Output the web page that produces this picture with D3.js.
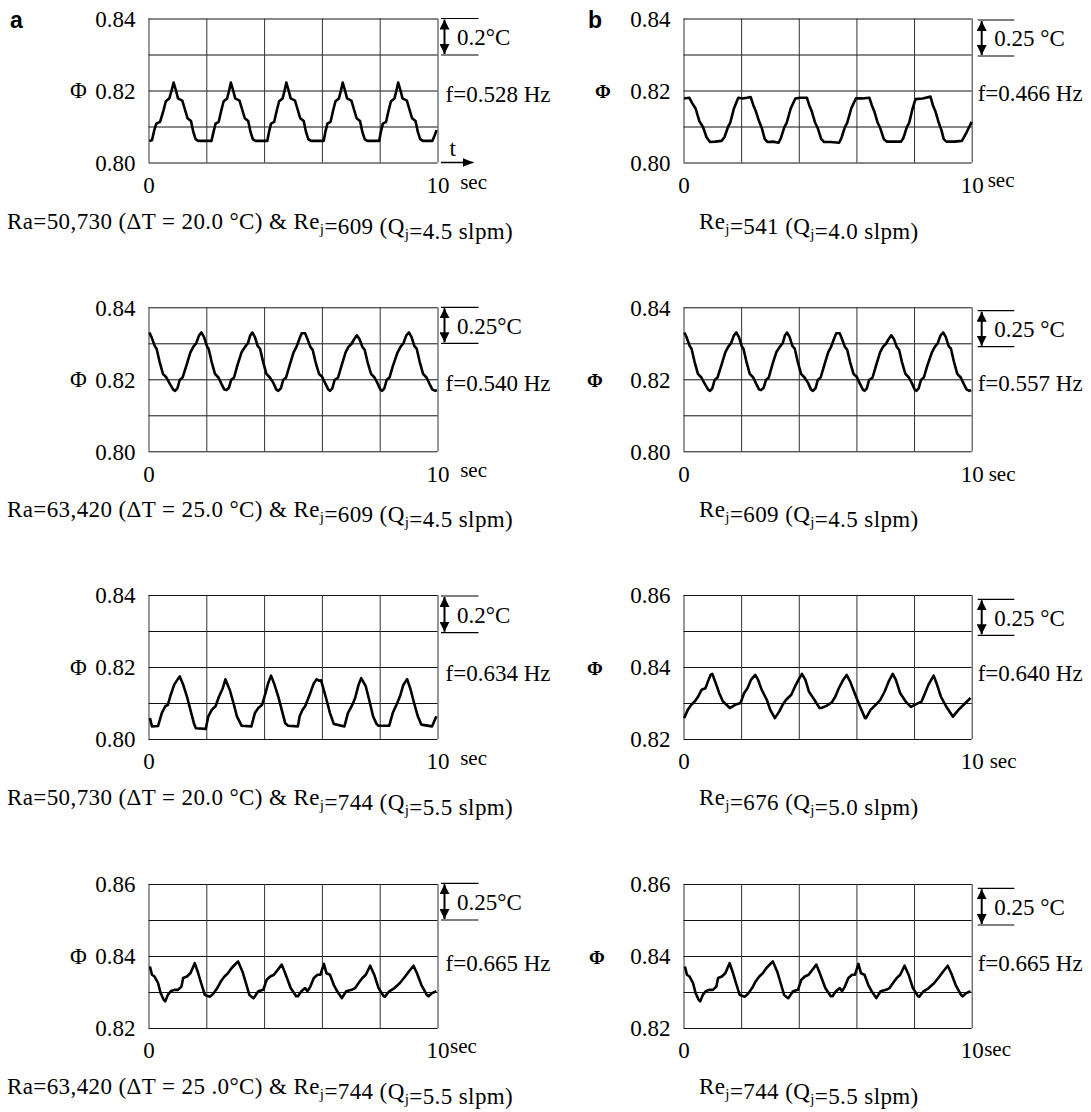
<!DOCTYPE html>
<html>
<head>
<meta charset="utf-8">
<script src="https://cdn.jsdelivr.net/npm/d3@7"></script>
<style>
  body { margin: 0; background: #fff; }
</style>
</head>
<body>
<svg id="chart" width="1091" height="1112"></svg>
<script>
// Φ(t) traces, [time (s), Φ]
const phiA1 = [
  [0.03,0.8060],[0.12,0.8062],[0.20,0.8090],[0.27,0.8108],[0.40,0.8113],[0.52,0.8145],[0.60,0.8170],[0.72,0.8178],[0.80,0.8200],[0.87,0.8222],[0.95,0.8200],[1.02,0.8178],[1.17,0.8172],[1.25,0.8150],[1.35,0.8123],[1.47,0.8115],[1.55,0.8085],[1.63,0.8065],[1.72,0.8060],[2.18,0.8060],
  [2.25,0.8085],[2.32,0.8108],[2.43,0.8113],[2.52,0.8145],[2.60,0.8170],[2.72,0.8178],[2.79,0.8200],[2.85,0.8222],[2.93,0.8200],[3.00,0.8178],[3.15,0.8172],[3.23,0.8150],[3.33,0.8123],[3.45,0.8115],[3.53,0.8085],[3.61,0.8065],[3.70,0.8060],[4.11,0.8060],
  [4.17,0.8085],[4.24,0.8108],[4.35,0.8113],[4.44,0.8145],[4.52,0.8170],[4.64,0.8178],[4.71,0.8200],[4.77,0.8222],[4.85,0.8200],[4.92,0.8178],[5.07,0.8172],[5.15,0.8150],[5.25,0.8123],[5.37,0.8115],[5.45,0.8085],[5.53,0.8065],[5.62,0.8060],[6.06,0.8060],
  [6.12,0.8085],[6.19,0.8108],[6.30,0.8113],[6.39,0.8145],[6.47,0.8170],[6.59,0.8178],[6.66,0.8200],[6.72,0.8222],[6.80,0.8200],[6.87,0.8178],[7.02,0.8172],[7.10,0.8150],[7.20,0.8123],[7.32,0.8115],[7.40,0.8085],[7.48,0.8065],[7.57,0.8060],[7.98,0.8060],
  [8.04,0.8085],[8.11,0.8108],[8.22,0.8113],[8.31,0.8145],[8.39,0.8170],[8.51,0.8178],[8.58,0.8200],[8.64,0.8222],[8.72,0.8200],[8.79,0.8178],[8.94,0.8172],[9.02,0.8150],[9.12,0.8123],[9.24,0.8115],[9.32,0.8085],[9.40,0.8065],[9.49,0.8060],[9.82,0.8060],[9.90,0.8075],[9.97,0.8090]
];
const phiB1 = [
  [0.02,0.8178],[0.20,0.8180],[0.30,0.8165],[0.42,0.8150],[0.55,0.8115],[0.68,0.8098],[0.80,0.8070],[0.92,0.8057],[1.10,0.8058],[1.32,0.8060],[1.42,0.8070],[1.55,0.8100],[1.62,0.8110],[1.75,0.8150],[1.90,0.8180],[2.05,0.8178],[2.20,0.8180],[2.33,0.8182],
  [2.42,0.8160],[2.52,0.8140],[2.62,0.8115],[2.72,0.8095],[2.82,0.8065],[2.92,0.8057],[3.10,0.8058],[3.30,0.8055],[3.38,0.8068],[3.50,0.8098],[3.58,0.8110],[3.72,0.8150],[3.88,0.8178],[4.05,0.8180],[4.28,0.8180],
  [4.36,0.8160],[4.46,0.8140],[4.56,0.8112],[4.66,0.8095],[4.78,0.8065],[4.88,0.8057],[5.10,0.8057],[5.40,0.8055],[5.48,0.8068],[5.60,0.8098],[5.68,0.8110],[5.82,0.8150],[5.98,0.8178],[6.20,0.8178],[6.45,0.8180],
  [6.53,0.8160],[6.63,0.8140],[6.73,0.8112],[6.83,0.8095],[6.95,0.8065],[7.05,0.8058],[7.30,0.8058],[7.55,0.8058],[7.63,0.8068],[7.75,0.8098],[7.83,0.8110],[7.95,0.8150],[8.05,0.8176],[8.30,0.8178],[8.57,0.8183],
  [8.65,0.8160],[8.75,0.8140],[8.85,0.8112],[8.95,0.8090],[9.03,0.8065],[9.12,0.8058],[9.40,0.8058],[9.66,0.8060],[9.80,0.8080],[9.92,0.8100],[10.0,0.8113]
];
// row 2: same trace appears in both columns
const phiRow2 = [
  [0.03,0.8330],[0.10,0.8318],[0.22,0.8292],[0.28,0.8285],[0.38,0.8250],[0.50,0.8215],[0.62,0.8205],[0.72,0.8190],[0.85,0.8172],[0.92,0.8168],[1.00,0.8175],[1.08,0.8198],[1.18,0.8205],[1.30,0.8235],[1.45,0.8275],[1.55,0.8290],[1.65,0.8300],[1.75,0.8322],[1.83,0.8330],
  [1.92,0.8318],[2.02,0.8292],[2.08,0.8285],[2.18,0.8250],[2.30,0.8215],[2.42,0.8205],[2.52,0.8188],[2.62,0.8172],[2.69,0.8170],[2.78,0.8176],[2.86,0.8198],[2.96,0.8205],[3.08,0.8240],[3.22,0.8275],[3.34,0.8290],[3.44,0.8300],[3.52,0.8322],[3.59,0.8330],
  [3.68,0.8318],[3.78,0.8292],[3.86,0.8285],[3.96,0.8250],[4.08,0.8215],[4.20,0.8205],[4.32,0.8190],[4.42,0.8172],[4.49,0.8168],[4.58,0.8175],[4.66,0.8198],[4.76,0.8205],[4.88,0.8238],[5.02,0.8275],[5.12,0.8290],[5.22,0.8312],[5.30,0.8328],[5.42,0.8328],
  [5.50,0.8312],[5.60,0.8290],[5.68,0.8282],[5.78,0.8248],[5.90,0.8215],[6.00,0.8208],[6.12,0.8188],[6.22,0.8172],[6.28,0.8168],[6.36,0.8175],[6.44,0.8198],[6.56,0.8205],[6.68,0.8238],[6.82,0.8275],[6.92,0.8290],[7.02,0.8298],[7.12,0.8312],[7.21,0.8322],
  [7.30,0.8312],[7.40,0.8290],[7.48,0.8282],[7.58,0.8248],[7.70,0.8215],[7.82,0.8205],[7.92,0.8190],[8.02,0.8172],[8.08,0.8168],[8.16,0.8175],[8.24,0.8198],[8.34,0.8205],[8.46,0.8238],[8.62,0.8275],[8.72,0.8290],[8.82,0.8300],[8.92,0.8322],[9.01,0.8330],
  [9.10,0.8318],[9.20,0.8292],[9.28,0.8285],[9.38,0.8250],[9.50,0.8215],[9.62,0.8205],[9.72,0.8188],[9.82,0.8172],[9.92,0.8168],[9.98,0.8170]
];
const phiA3 = [
  [0.05,0.8058],[0.12,0.8035],[0.33,0.8036],[0.46,0.8072],[0.58,0.8091],[0.67,0.8095],[0.77,0.8123],[0.89,0.8151],[1.08,0.8174],[1.20,0.8151],[1.33,0.8118],[1.45,0.8081],[1.57,0.8044],[1.64,0.8030],[1.98,0.8028],
  [2.07,0.8063],[2.19,0.8081],[2.32,0.8091],[2.44,0.8118],[2.57,0.8141],[2.66,0.8166],[2.81,0.8137],[2.94,0.8100],[3.06,0.8063],[3.22,0.8037],[3.56,0.8035],
  [3.68,0.8072],[3.80,0.8086],[3.93,0.8095],[4.05,0.8128],[4.14,0.8155],[4.24,0.8176],[4.36,0.8151],[4.49,0.8118],[4.61,0.8081],[4.73,0.8044],[4.83,0.8037],[5.17,0.8035],
  [5.23,0.8063],[5.33,0.8081],[5.42,0.8091],[5.60,0.8128],[5.72,0.8155],[5.82,0.8166],[5.90,0.8162],[5.97,0.8163],[6.03,0.8146],[6.16,0.8109],[6.28,0.8072],[6.41,0.8042],[6.78,0.8035],
  [6.90,0.8072],[7.03,0.8091],[7.15,0.8114],[7.27,0.8151],[7.36,0.8169],[7.52,0.8146],[7.65,0.8104],[7.77,0.8063],[7.89,0.8042],[7.96,0.8037],[8.33,0.8037],
  [8.45,0.8072],[8.58,0.8095],[8.70,0.8118],[8.82,0.8151],[8.95,0.8166],[9.07,0.8137],[9.19,0.8100],[9.32,0.8063],[9.44,0.8040],[9.81,0.8035],[9.96,0.8063]
];
const phiB3 = [
  [0.02,0.8258],[0.15,0.8281],[0.27,0.8295],[0.39,0.8304],[0.51,0.8318],[0.63,0.8337],[0.76,0.8341],[0.85,0.8360],[0.94,0.8378],[1.00,0.8381],[1.12,0.8355],[1.24,0.8327],[1.37,0.8304],[1.49,0.8295],[1.61,0.8286],[1.79,0.8295],[1.98,0.8300],
  [2.10,0.8327],[2.22,0.8341],[2.34,0.8364],[2.49,0.8378],[2.59,0.8364],[2.71,0.8337],[2.89,0.8309],[3.01,0.8281],[3.17,0.8258],
  [3.32,0.8276],[3.44,0.8295],[3.56,0.8309],[3.74,0.8323],[3.87,0.8346],[3.99,0.8364],[4.11,0.8381],[4.23,0.8364],[4.35,0.8332],[4.54,0.8309],[4.72,0.8286],[4.78,0.8286],[4.96,0.8292],[5.15,0.8302],
  [5.27,0.8318],[5.39,0.8341],[5.54,0.8364],[5.66,0.8378],[5.78,0.8360],[5.94,0.8327],[6.12,0.8291],[6.30,0.8258],[6.33,0.8258],
  [6.49,0.8281],[6.67,0.8295],[6.83,0.8309],[6.98,0.8332],[7.12,0.8360],[7.26,0.8381],[7.37,0.8364],[7.52,0.8327],[7.71,0.8304],[7.89,0.8289],[8.07,0.8297],[8.26,0.8304],
  [8.38,0.8327],[8.50,0.8351],[8.68,0.8376],[8.78,0.8355],[8.93,0.8318],[9.11,0.8291],[9.35,0.8262],[9.54,0.8281],[9.72,0.8295],[9.96,0.8314]
];
// row 4: same trace appears in both columns
const phiRow4 = [
  [0.05,0.8371],[0.12,0.8348],[0.21,0.8343],[0.33,0.8325],[0.42,0.8297],[0.52,0.8279],[0.58,0.8274],[0.67,0.8292],[0.77,0.8302],[0.89,0.8306],[1.02,0.8306],[1.14,0.8315],[1.20,0.8339],[1.33,0.8343],[1.45,0.8352],[1.60,0.8380],
  [1.70,0.8357],[1.82,0.8325],[1.95,0.8292],[2.07,0.8288],[2.13,0.8287],[2.26,0.8297],[2.38,0.8311],[2.50,0.8329],[2.63,0.8343],[2.75,0.8352],[2.87,0.8366],[3.10,0.8385],
  [3.25,0.8357],[3.37,0.8325],[3.49,0.8292],[3.62,0.8283],[3.64,0.8283],[3.80,0.8302],[3.97,0.8306],[4.09,0.8334],[4.21,0.8343],[4.34,0.8348],[4.61,0.8376],
  [4.73,0.8352],[4.92,0.8311],[5.11,0.8288],[5.17,0.8288],[5.29,0.8302],[5.42,0.8311],[5.50,0.8302],[5.60,0.8315],[5.72,0.8339],[5.85,0.8348],[5.95,0.8348],[6.07,0.8378],
  [6.16,0.8352],[6.28,0.8348],[6.41,0.8320],[6.53,0.8302],[6.69,0.8283],[6.84,0.8302],[7.03,0.8306],[7.15,0.8311],[7.27,0.8325],[7.40,0.8339],[7.52,0.8348],[7.67,0.8373],
  [7.81,0.8348],[7.96,0.8311],[8.14,0.8288],[8.18,0.8287],[8.33,0.8302],[8.51,0.8311],[8.70,0.8325],[8.88,0.8343],[9.01,0.8357],[9.17,0.8373],
  [9.29,0.8352],[9.44,0.8320],[9.63,0.8292],[9.69,0.8288],[9.81,0.8297],[9.96,0.8302]
];

// panel order: a1, b1, a2, b2, a3, b3, a4, b4
const series = [phiA1, phiB1, phiRow2, phiRow2, phiA3, phiB3, phiRow4, phiRow4];
const yDomains = [[0.80,0.84],[0.80,0.84],[0.80,0.84],[0.80,0.84],[0.80,0.84],[0.82,0.86],[0.82,0.86],[0.82,0.86]];
const yTickLabels = [
  [0.80,0.82,0.84],[0.80,0.82,0.84],[0.80,0.82,0.84],[0.80,0.82,0.84],
  [0.80,0.82,0.84],[0.82,0.84,0.86],[0.82,0.84,0.86],[0.82,0.84,0.86]
];
const xTickLabels = [0, 10];
const freqLabels = ['f=0.528 Hz','f=0.466 Hz','f=0.540 Hz','f=0.557 Hz','f=0.634 Hz','f=0.640 Hz','f=0.665 Hz','f=0.665 Hz'];
const tempLabels = ['0.2°C','0.25 °C','0.25°C','0.25 °C','0.2°C','0.25 °C','0.25°C','0.25 °C'];
const captions = [
  'Ra=50,730 (ΔT = 20.0 °C) & Re_j=609 (Q_j=4.5 slpm)',
  'Re_j=541 (Q_j=4.0 slpm)',
  'Ra=63,420 (ΔT = 25.0 °C) & Re_j=609 (Q_j=4.5 slpm)',
  'Re_j=609 (Q_j=4.5 slpm)',
  'Ra=50,730 (ΔT = 20.0 °C) & Re_j=744 (Q_j=5.5 slpm)',
  'Re_j=676 (Q_j=5.0 slpm)',
  'Ra=63,420 (ΔT = 25 .0°C) & Re_j=744 (Q_j=5.5 slpm)',
  'Re_j=744 (Q_j=5.5 slpm)'
];

// layout
const SERIF = "'Liberation Serif', 'Times New Roman', Times, serif";
const SANS = "'Liberation Sans', Arial, sans-serif";
const FS = 23;
const colLeft = [148.5, 683.5];
const colWidth = [289, 288.2];
const rowTop = [18.5, 307.3, 595, 884];
const plotH = 144;
const capX = [7, 699];
const phiX = [70, 595, 70, 587, 70, 587, 70, 589];
// per-panel placement of the side annotations (offsets from plot right / top)
const tweaks = [
  {l0: 3.5, l1: 41, y0: 0, y1: 36.5, ax: 7, tx: 19.5, fx: 8, fy: 11.7, sx: 22.7, sy: -5},
  {l0: 6, l1: 42.6, y0: 1.5, y1: 37.5, ax: 10, tx: 22.6, fx: 6, fy: 10.5, sx: 16, sy: -6.5},
  {l0: 3.5, l1: 41, y0: 0, y1: 36, ax: 7, tx: 19.5, fx: 8, fy: 12, sx: 22.7, sy: -5},
  {l0: 6, l1: 42.6, y0: 3.4, y1: 39.4, ax: 10, tx: 22.6, fx: 6, fy: 12, sx: 17, sy: -1},
  {l0: 3.5, l1: 41, y0: 1, y1: 37.7, ax: 7, tx: 19.5, fx: 8, fy: 13.5, sx: 22.7, sy: -5},
  {l0: 6, l1: 42.6, y0: 4.3, y1: 40.3, ax: 10, tx: 22.6, fx: 6, fy: 13.5, sx: 18, sy: -2},
  {l0: 3.5, l1: 41, y0: -0.7, y1: 36, ax: 7, tx: 19.5, fx: 8, fy: 15, sx: 12.5, sy: -6},
  {l0: 6, l1: 42.6, y0: 4.3, y1: 41, ax: 10, tx: 22.6, fx: 6, fy: 15, sx: 12.5, sy: -3}
];

const svg = d3.select('#chart').style('font-family', SERIF);
svg.append('rect').attr('width', 1091).attr('height', 1112).attr('fill', '#fff');

const defs = svg.append('defs');
defs.append('marker')
  .attr('id', 'head')
  .attr('viewBox', '0 0 10 10')
  .attr('refX', 10).attr('refY', 5)
  .attr('markerWidth', 10).attr('markerHeight', 10)
  .attr('markerUnits', 'userSpaceOnUse')
  .attr('orient', 'auto-start-reverse')
  .append('path').attr('d', 'M0,0L10,5L0,10z').attr('fill', '#000');
defs.append('marker')
  .attr('id', 'thead')
  .attr('viewBox', '0 0 10 10')
  .attr('refX', 10).attr('refY', 5)
  .attr('markerWidth', 11).attr('markerHeight', 9)
  .attr('markerUnits', 'userSpaceOnUse')
  .attr('orient', 'auto')
  .attr('preserveAspectRatio', 'none')
  .append('path').attr('d', 'M0,0L10,5L0,10z').attr('fill', '#000');

const fmt = d3.format('.2f');

series.forEach((data, i) => {
  const col = i % 2, row = Math.floor(i / 2);
  const left = colLeft[col], top = rowTop[row], w = colWidth[col], h = plotH;
  const tw = tweaks[i];
  const x = d3.scaleLinear().domain([0, 10]).range([0, w]);
  const y = d3.scaleLinear().domain(yDomains[i]).range([h, 0]);

  const g = svg.append('g').attr('transform', 'translate(' + left + ',' + top + ')');

  // grid (also gives the frame)
  g.append('g')
    .call(d3.axisLeft(y).ticks(4).tickSize(-w).tickFormat(''))
    .call(s => s.select('.domain').remove())
    .selectAll('line').attr('stroke', '#111').attr('stroke-width', 1);
  g.append('g')
    .attr('transform', 'translate(0,' + h + ')')
    .call(d3.axisBottom(x).ticks(5).tickSize(-h).tickFormat(''))
    .call(s => s.select('.domain').remove())
    .selectAll('line').attr('stroke', '#333').attr('stroke-width', 1);

  // tick labels
  g.append('g')
    .call(d3.axisLeft(y).tickValues(yTickLabels[i]).tickSize(0).tickPadding(13).tickFormat(fmt))
    .call(s => s.select('.domain').remove())
    .selectAll('text')
    .style('font-family', SERIF).style('font-size', FS + 'px').attr('fill', '#000').attr('dy', '0.34em');
  g.append('g')
    .attr('transform', 'translate(0,' + h + ')')
    .call(d3.axisBottom(x).tickValues(xTickLabels).tickSize(0).tickPadding(14).tickFormat(d3.format('d')))
    .call(s => s.select('.domain').remove())
    .selectAll('text')
    .style('font-family', SERIF).style('font-size', FS + 'px').attr('fill', '#000');

  // trace
  g.append('path')
    .datum(data)
    .attr('fill', 'none')
    .attr('stroke', '#000')
    .attr('stroke-width', 2.6)
    .attr('stroke-linejoin', 'round')
    .attr('d', d3.line().x(d => x(d[0])).y(d => y(d[1])));

  const mid = y(yTickLabels[i][1]);

  // Φ label
  svg.append('text')
    .attr('x', phiX[i]).attr('y', top + mid + 7.5)
    .style('font-size', col === 0 ? FS + 'px' : '19px')
    .style('font-weight', col === 0 ? 'normal' : 'bold')
    .text('Φ');

  // frequency
  g.append('text')
    .attr('x', w + tw.fx).attr('y', mid + tw.fy)
    .style('font-size', FS + 'px')
    .text(freqLabels[i]);

  // temperature scale bar
  const ann = g.append('g').attr('stroke', '#000').attr('stroke-width', 1.2);
  ann.append('line').attr('x1', w + tw.l0).attr('x2', w + tw.l1).attr('y1', tw.y0).attr('y2', tw.y0);
  ann.append('line').attr('x1', w + tw.l0).attr('x2', w + tw.l1).attr('y1', tw.y1).attr('y2', tw.y1);
  ann.append('line')
    .attr('x1', w + tw.ax).attr('x2', w + tw.ax)
    .attr('y1', tw.y0 + 1).attr('y2', tw.y1 - 1)
    .attr('stroke-width', 2)
    .attr('marker-start', 'url(#head)')
    .attr('marker-end', 'url(#head)');
  g.append('text')
    .attr('x', w + tw.tx).attr('y', (tw.y0 + tw.y1) / 2 + 8.3)
    .style('font-size', FS + 'px')
    .text(tempLabels[i]);

  // "sec" unit next to the 10
  g.append('text')
    .attr('x', w + tw.sx).attr('y', h + 31 + tw.sy)
    .style('font-size', '21px')
    .text('sec');

  // time arrow, first panel only
  if (i === 0) {
    g.append('line')
      .attr('x1', w + 3.4).attr('x2', w + 36)
      .attr('y1', h).attr('y2', h)
      .attr('stroke', '#000').attr('stroke-width', 1.5)
      .attr('marker-end', 'url(#thead)');
    g.append('text')
      .attr('x', w + 12).attr('y', h - 7)
      .style('font-size', FS + 'px')
      .text('t');
  }

  // caption with subscripts
  const cap = svg.append('text')
    .attr('x', capX[col]).attr('y', top + h + 66)
    .style('font-size', FS + 'px')
    .style('letter-spacing', '0.4px');
  captions[i].split(/_(j)/).forEach((part, k) => {
    if (k % 2 === 1) {
      cap.append('tspan').style('font-size', '15px').attr('dy', 5).text(part);
      cap.append('tspan').attr('dy', -5).text('');
    } else {
      cap.append('tspan').text(part);
    }
  });
});

// panel letters
svg.append('text').attr('x', 10).attr('y', 28)
  .style('font-family', SANS).style('font-weight', 'bold').style('font-size', '23px').text('a');
svg.append('text').attr('x', 588).attr('y', 28)
  .style('font-family', SANS).style('font-weight', 'bold').style('font-size', '23px').text('b');
</script>
</body>
</html>
